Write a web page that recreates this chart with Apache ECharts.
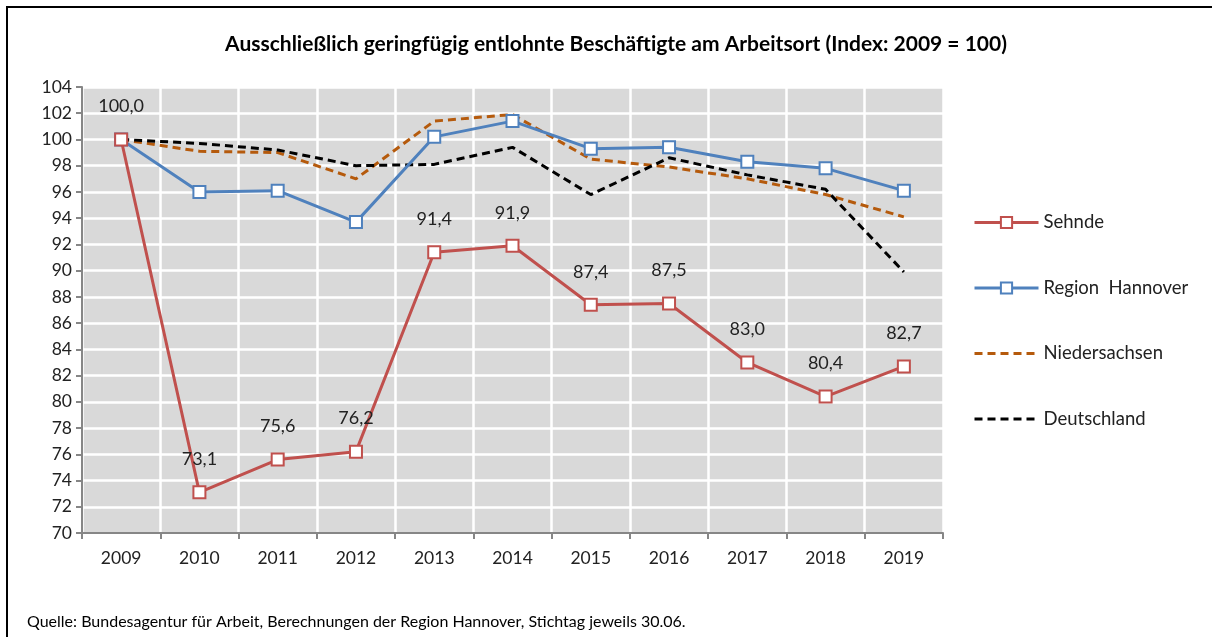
<!DOCTYPE html>
<html>
<head>
<meta charset="utf-8">
<script src="https://cdn.jsdelivr.net/npm/echarts@6/dist/echarts.min.js"></script>
<style>
  html, body { margin: 0; padding: 0; background: #fff; }
  #chart { width: 1212px; height: 637px; }
</style>
</head>
<body>
<div id="chart"></div>
<script>
const years = ['2009', '2010', '2011', '2012', '2013', '2014', '2015', '2016', '2017', '2018', '2019'];
const sehnde = [100.0, 73.1, 75.6, 76.2, 91.4, 91.9, 87.4, 87.5, 83.0, 80.4, 82.7];
const regionHannover = [100.0, 96.0, 96.1, 93.7, 100.2, 101.4, 99.3, 99.4, 98.3, 97.8, 96.1];
const niedersachsen = [100.0, 99.1, 99.0, 97.0, 101.4, 101.9, 98.5, 97.9, 97.0, 95.8, 94.1];
const deutschland = [100.0, 99.7, 99.2, 98.0, 98.1, 99.4, 95.8, 98.6, 97.3, 96.2, 89.9];

const font = 'Lato, "Open Sans", sans-serif';
const chart = echarts.init(document.getElementById('chart'));

chart.setOption({
  animation: false,
  textStyle: { fontFamily: font },
  title: {
    text: 'Ausschließlich geringfügig entlohnte Beschäftigte am Arbeitsort (Index: 2009 = 100)',
    left: 611, top: 29, textAlign: 'center',
    textStyle: { fontSize: 21, fontWeight: 'bold', color: '#000', fontFamily: font }
  },
  graphic: [
    { type: 'rect', shape: { x: 7, y: 7, width: 1220, height: 650 },
      style: { fill: 'none', stroke: '#000', lineWidth: 2 } },
    { type: 'text', left: 27, top: 614,
      style: { text: 'Quelle: Bundesagentur für Arbeit, Berechnungen der Region Hannover, Stichtag jeweils 30.06.',
        fontSize: 16, fill: '#000', fontFamily: font } }
  ],
  legend: {
    orient: 'vertical', left: 968, top: 208,
    itemWidth: 64, itemHeight: 14, itemGap: 46.5,
    textStyle: { fontSize: 18.5, color: '#222', fontFamily: font },
    data: [
      { name: 'Sehnde', lineStyle: { width: 3 } },
      { name: 'Region  Hannover', lineStyle: { width: 3 } },
      { name: 'Niedersachsen', itemStyle: { opacity: 0 }, lineStyle: { width: 3 } },
      { name: 'Deutschland', itemStyle: { opacity: 0 }, lineStyle: { width: 3 } }
    ]
  },
  grid: { left: 82, right: 269, top: 87, bottom: 104, show: true, backgroundColor: '#d9d9d9', borderWidth: 0 },
  xAxis: {
    type: 'category', data: years, boundaryGap: true,
    axisLine: { lineStyle: { color: '#868686', width: 2 } },
    axisTick: { show: true, length: 6, lineStyle: { color: '#868686', width: 2 } },
    axisLabel: { fontSize: 17.5, color: '#222', margin: 16, fontFamily: font },
    splitLine: { show: true, lineStyle: { color: '#fff', width: 2.5 } }
  },
  yAxis: {
    type: 'value', min: 70, max: 104, interval: 2,
    axisLine: { show: true, lineStyle: { color: '#868686', width: 2 } },
    axisTick: { show: true, length: 6, lineStyle: { color: '#868686', width: 2 } },
    axisLabel: { fontSize: 17.5, color: '#222', margin: 10, fontFamily: font },
    splitLine: { show: true, lineStyle: { color: '#fff', width: 2.5 } }
  },
  series: [
    {
      name: 'Sehnde', type: 'line', data: sehnde, z: 5,
      symbol: 'rect', symbolSize: 12, showAllSymbol: true,
      lineStyle: { color: '#c0504d', width: 3 },
      itemStyle: { color: '#fff', borderColor: '#c0504d', borderWidth: 2 },
      label: {
        show: true, position: 'top', distance: 17, fontSize: 18, color: '#222', fontFamily: font,
        formatter: p => p.value.toFixed(1).replace('.', ',')
      }
    },
    {
      name: 'Region  Hannover', type: 'line', data: regionHannover, z: 4,
      symbol: 'rect', symbolSize: 12, showAllSymbol: true,
      lineStyle: { color: '#4f81bd', width: 3 },
      itemStyle: { color: '#fff', borderColor: '#4f81bd', borderWidth: 2 }
    },
    {
      name: 'Niedersachsen', type: 'line', data: niedersachsen, z: 3,
      symbol: 'none',
      lineStyle: { color: '#b55a0c', width: 3, type: [8, 5] },
      itemStyle: { color: '#b55a0c' }
    },
    {
      name: 'Deutschland', type: 'line', data: deutschland, z: 3,
      symbol: 'none',
      lineStyle: { color: '#000', width: 3, type: [8, 5] },
      itemStyle: { color: '#000' }
    }
  ]
});
</script>
</body>
</html>
